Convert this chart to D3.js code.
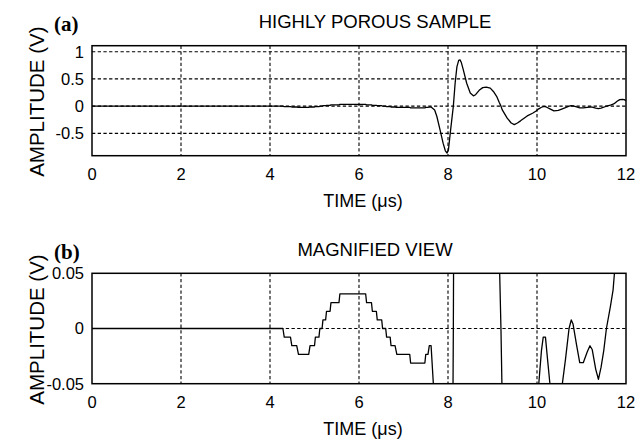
<!DOCTYPE html>
<html>
<head>
<meta charset="utf-8">
<script src="https://cdn.jsdelivr.net/npm/d3@7"></script>
<style>
  html, body { margin: 0; padding: 0; background: #fff; }
  svg { display: block; }
  text { font-family: "Liberation Sans", Arial, Helvetica, sans-serif; fill: #000; }
  .panel-tag { font-family: "Liberation Serif", "Times New Roman", serif; font-weight: bold; }
</style>
</head>
<body>
<svg id="chart" width="635" height="444"></svg>
<script>
// Received ultrasonic waveform (time in microseconds, amplitude in volts).
// The early part sits on 1/128 V digitiser steps, visible in the magnified view.
const timeUs = [
  0, 4.29, 4.32, 4.46, 4.49, 4.60, 4.64, 4.87, 4.90, 5.00,
  5.02, 5.10, 5.12, 5.17, 5.19, 5.25, 5.27, 5.35, 5.37, 5.55,
  5.57, 6.15, 6.17, 6.28, 6.30, 6.39, 6.41, 6.51, 6.53, 6.60,
  6.62, 6.70, 6.72, 6.81, 6.85, 7.14, 7.16, 7.48, 7.50, 7.55,
  7.58, 7.62, 7.70, 7.75, 7.82, 7.89, 7.94, 7.98, 8.01, 8.05,
  8.12, 8.16, 8.20, 8.24, 8.27, 8.30, 8.34, 8.42, 8.50, 8.57,
  8.62, 8.70, 8.78, 8.86, 8.95, 9.02, 9.10, 9.15, 9.19, 9.22,
  9.33, 9.42, 9.49, 9.56, 9.63, 9.78, 9.90, 9.98, 10.04, 10.10,
  10.14, 10.19, 10.23, 10.29, 10.38, 10.48, 10.57, 10.64, 10.72, 10.77,
  10.81, 10.89, 10.96, 11.04, 11.13, 11.19, 11.24, 11.32, 11.38, 11.44,
  11.50, 11.56, 11.65, 11.71, 11.74, 11.80, 11.86, 11.92, 11.96, 12.0
];
const amplitudeV = [
  0, 0, -0.0078, -0.0078, -0.0156, -0.0156, -0.0234, -0.0234, -0.0156, -0.0156,
  -0.0078, -0.0078, 0, 0, 0.0078, 0.0078, 0.0156, 0.0156, 0.0234, 0.0234,
  0.0313, 0.0313, 0.0234, 0.0234, 0.0156, 0.0156, 0.0078, 0.0078, 0, 0,
  -0.0078, -0.0078, -0.0156, -0.0156, -0.0234, -0.0234, -0.0313, -0.0313, -0.0234, -0.0234,
  -0.0156, -0.0156, -0.07, -0.19, -0.43, -0.68, -0.82, -0.86, -0.80, -0.50,
  0.0, 0.42, 0.72, 0.84, 0.85, 0.80, 0.68, 0.42, 0.24, 0.19,
  0.21, 0.29, 0.34, 0.35, 0.33, 0.27, 0.17, 0.07, 0.0, -0.07,
  -0.22, -0.31, -0.34, -0.31, -0.27, -0.18, -0.13, -0.09, -0.05, -0.02,
  -0.0078, -0.0078, -0.025, -0.05, -0.086, -0.078, -0.05, -0.028, 0.0, 0.0078,
  0.004, -0.015, -0.031, -0.031, -0.021, -0.0156, -0.019, -0.037, -0.046, -0.035,
  -0.02, 0.0, 0.02, 0.035, 0.05, 0.09, 0.12, 0.125, 0.12, 0.10
];

// Axis ticks and labels
const timeTicks = [0, 2, 4, 6, 8, 10, 12];
const fullAmpTicks = [-0.5, 0, 0.5, 1];
const fullAmpLabels = ["-0.5", "0", "0.5", "1"];
const zoomAmpTicks = [-0.05, 0, 0.05];
const zoomAmpLabels = ["-0.05", "0", "0.05"];

const fullAmpRange = [-0.91, 1.11];
const zoomAmpRange = [-0.05, 0.05];

const waveform = timeUs.map((t, i) => ({ t: t, v: amplitudeV[i] }));

const svg = d3.select("#chart");
const left = 92, right = 626;

function drawPanel(opts) {
  const x = d3.scaleLinear().domain([0, 12]).range([left, right]);
  const y = d3.scaleLinear().domain(opts.yDomain).range([opts.bottom, opts.top]);
  const g = svg.append("g");

  // clip region for the trace
  const clipId = "clip-" + opts.id;
  svg.append("defs").append("clipPath").attr("id", clipId)
    .append("rect")
    .attr("x", left).attr("y", opts.top)
    .attr("width", right - left).attr("height", opts.bottom - opts.top);

  // dashed grid
  const gx = timeTicks.filter(d => d > 0 && d < 12);
  g.selectAll(".vgrid").data(gx).join("line")
    .attr("x1", d => x(d)).attr("x2", d => x(d))
    .attr("y1", opts.top).attr("y2", opts.bottom)
    .attr("stroke", "#000").attr("stroke-width", 1.1)
    .attr("stroke-dasharray", "3.3,2.4");
  const gy = opts.yTicks.filter(d => y(d) > opts.top + 1 && y(d) < opts.bottom - 1);
  g.selectAll(".hgrid").data(gy).join("line")
    .attr("x1", left).attr("x2", right)
    .attr("y1", d => y(d)).attr("y2", d => y(d))
    .attr("stroke", "#000").attr("stroke-width", 1.1)
    .attr("stroke-dasharray", "3.3,2.4");

  // waveform trace
  const line = d3.line().x(d => x(d.t)).y(d => y(d.v));
  g.append("path")
    .datum(waveform)
    .attr("clip-path", "url(#" + clipId + ")")
    .attr("fill", "none")
    .attr("stroke", "#000")
    .attr("stroke-width", 1.3)
    .attr("stroke-linejoin", "round")
    .attr("d", line);

  // axes box
  g.append("rect")
    .attr("x", left).attr("y", opts.top)
    .attr("width", right - left).attr("height", opts.bottom - opts.top)
    .attr("fill", "none").attr("stroke", "#000").attr("stroke-width", 1.5);

  // time tick labels
  g.selectAll(".xt").data(timeTicks).join("text")
    .attr("x", d => x(d)).attr("y", opts.bottom + 24.5)
    .attr("text-anchor", "middle")
    .style("font-size", "16.5px")
    .text(d => d);

  // amplitude tick labels
  g.selectAll(".yt").data(opts.yTicks).join("text")
    .attr("x", left - 8).attr("y", d => y(d))
    .attr("dy", "0.36em")
    .attr("text-anchor", "end")
    .style("font-size", "16.5px")
    .text((d, i) => opts.yLabels[i]);

  // axis titles
  g.append("text")
    .attr("text-anchor", "middle")
    .attr("transform", `translate(43.5,${(opts.top + opts.bottom) / 2 + 1}) rotate(-90)`)
    .style("font-size", "20.5px")
    .text("AMPLITUDE (V)");
  g.append("text")
    .attr("x", 363).attr("y", opts.bottom + 51)
    .attr("text-anchor", "middle")
    .style("font-size", "18px")
    .text("TIME (\u03bcs)");

  // panel title and tag
  g.append("text")
    .attr("x", 375).attr("y", opts.top - 17.5)
    .attr("text-anchor", "middle")
    .style("font-size", "18.5px")
    .text(opts.title);
  g.append("text")
    .attr("class", "panel-tag")
    .attr("x", 54).attr("y", opts.top - 14.5)
    .style("font-size", "21px")
    .text(opts.tag);
}

drawPanel({
  id: "full", top: 45.7, bottom: 155.7,
  yDomain: fullAmpRange, yTicks: fullAmpTicks, yLabels: fullAmpLabels,
  title: "HIGHLY POROUS SAMPLE", tag: "(a)"
});
drawPanel({
  id: "zoom", top: 273.3, bottom: 383.7,
  yDomain: zoomAmpRange, yTicks: zoomAmpTicks, yLabels: zoomAmpLabels,
  title: "MAGNIFIED VIEW", tag: "(b)"
});
</script>
</body>
</html>
